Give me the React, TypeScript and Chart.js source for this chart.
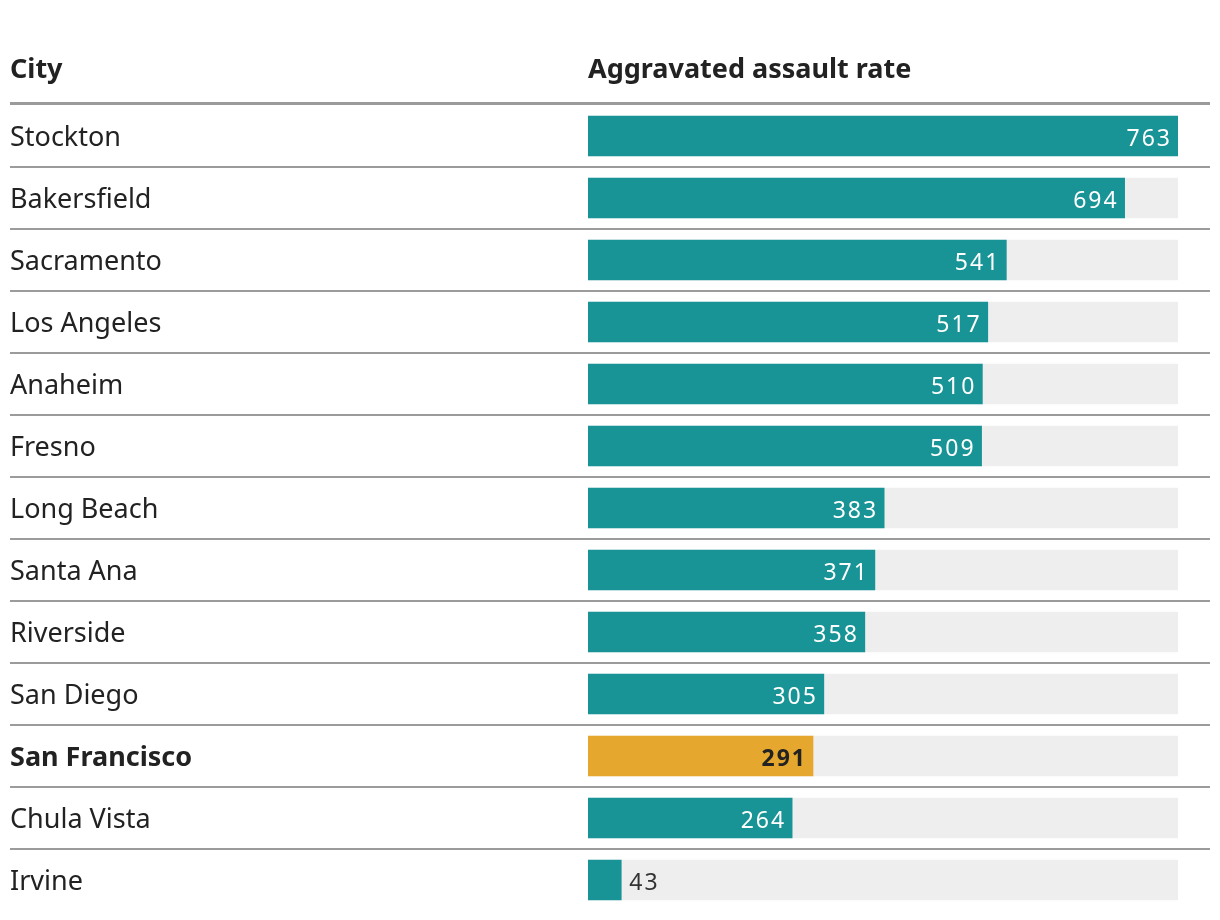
import React, { useEffect, useRef } from "react";
import { Chart, registerables } from "chart.js";

Chart.register(...registerables);

const cities = [
  "Stockton",
  "Bakersfield",
  "Sacramento",
  "Los Angeles",
  "Anaheim",
  "Fresno",
  "Long Beach",
  "Santa Ana",
  "Riverside",
  "San Diego",
  "San Francisco",
  "Chula Vista",
  "Irvine",
];
const rates = [763, 694, 541, 517, 510, 509, 383, 371, 358, 305, 291, 264, 43];
const highlightCity = "San Francisco";
const headerCity = "City";
const headerRate = "Aggravated assault rate";
const maxRate = 763;

const TEAL = "#189396";
const GOLD = "#E5A72D";
const TRACK = "#EEEEEE";
const TEXT = "#222222";
const RULE = "#9B9B9B";
const FONT = '"Noto Sans", "DejaVu Sans", sans-serif';

const tablePlugin = {
  id: "tablePlugin",
  beforeDraw(chart: any) {
    const ctx = chart.ctx as CanvasRenderingContext2D;
    const area = chart.chartArea;
    const y = chart.scales.y;
    ctx.save();
    ctx.fillStyle = TEXT;
    ctx.font = `bold 27px ${FONT}`;
    ctx.textBaseline = "alphabetic";
    ctx.textAlign = "left";
    ctx.fillText(headerCity, 10, 78);
    ctx.fillText(headerRate, area.left, 78);
    ctx.fillStyle = RULE;
    ctx.fillRect(10, 102, 1200, 3);
    const band = y.getPixelForValue(1) - y.getPixelForValue(0);
    for (let i = 0; i < cities.length - 1; i++) {
      const py = y.getPixelForValue(i) + band / 2;
      ctx.fillRect(10, Math.round(py) - 1, 1200, 2);
    }
    // city labels
    ctx.textBaseline = "middle";
    cities.forEach((c, i) => {
      const isHi = c === highlightCity;
      ctx.fillStyle = TEXT;
      ctx.font = `${isHi ? "bold " : ""}27px ${FONT}`;
      ctx.fillText(c, 10, y.getPixelForValue(i) + 2);
    });
    ctx.restore();
  },
  afterDatasetsDraw(chart: any) {
    const ctx = chart.ctx as CanvasRenderingContext2D;
    const meta = chart.getDatasetMeta(1);
    ctx.save();
    ctx.textBaseline = "middle";
    (ctx as any).letterSpacing = "2px";
    meta.data.forEach((bar: any, i: number) => {
      const isHi = cities[i] === highlightCity;
      ctx.font = `${isHi ? "bold " : ""}23px ${FONT}`;
      const label = String(rates[i]);
      const w = ctx.measureText(label).width;
      const left = bar.base;
      const right = bar.x;
      if (right - left > w + 16) {
        ctx.textAlign = "right";
        ctx.fillStyle = isHi ? TEXT : "#FFFFFF";
        ctx.fillText(label, right - 6, bar.y + 3);
      } else {
        ctx.textAlign = "left";
        ctx.fillStyle = "#333333";
        ctx.fillText(label, right + 8, bar.y + 3);
      }
    });
    ctx.restore();
  },
};

export default function App() {
  const ref = useRef<HTMLCanvasElement | null>(null);
  useEffect(() => {
    document.body.style.margin = "0";
    const canvas = ref.current;
    if (!canvas) return;
    const chart = new Chart(canvas, {
      type: "bar",
      data: {
        labels: cities,
        datasets: [
          {
            label: "track",
            data: cities.map(() => maxRate),
            backgroundColor: TRACK,
            barThickness: 40,
            grouped: false,
            order: 2,
          } as any,
          {
            label: headerRate,
            data: rates,
            backgroundColor: cities.map((c) => (c === highlightCity ? GOLD : TEAL)),
            barThickness: 40,
            grouped: false,
            order: 1,
          } as any,
        ],
      },
      options: {
        animation: false,
        responsive: false,
        indexAxis: "y",
        layout: { padding: { left: 10, top: 105, bottom: 9, right: 42 } },
        plugins: { legend: { display: false }, tooltip: { enabled: false } },
        scales: {
          x: { display: false, min: 0, max: maxRate },
          y: {
            grid: { display: false },
            border: { display: false },
            ticks: { display: false },
            afterFit: (scale: any) => {
              scale.width = 578;
            },
          },
        },
      },
      plugins: [tablePlugin],
    });
    return () => chart.destroy();
  }, []);
  return (
    <div style={{ width: 1220, height: 920, background: "#fff" }}>
      <canvas ref={ref} width={1220} height={920} style={{ display: "block" }} />
    </div>
  );
}
